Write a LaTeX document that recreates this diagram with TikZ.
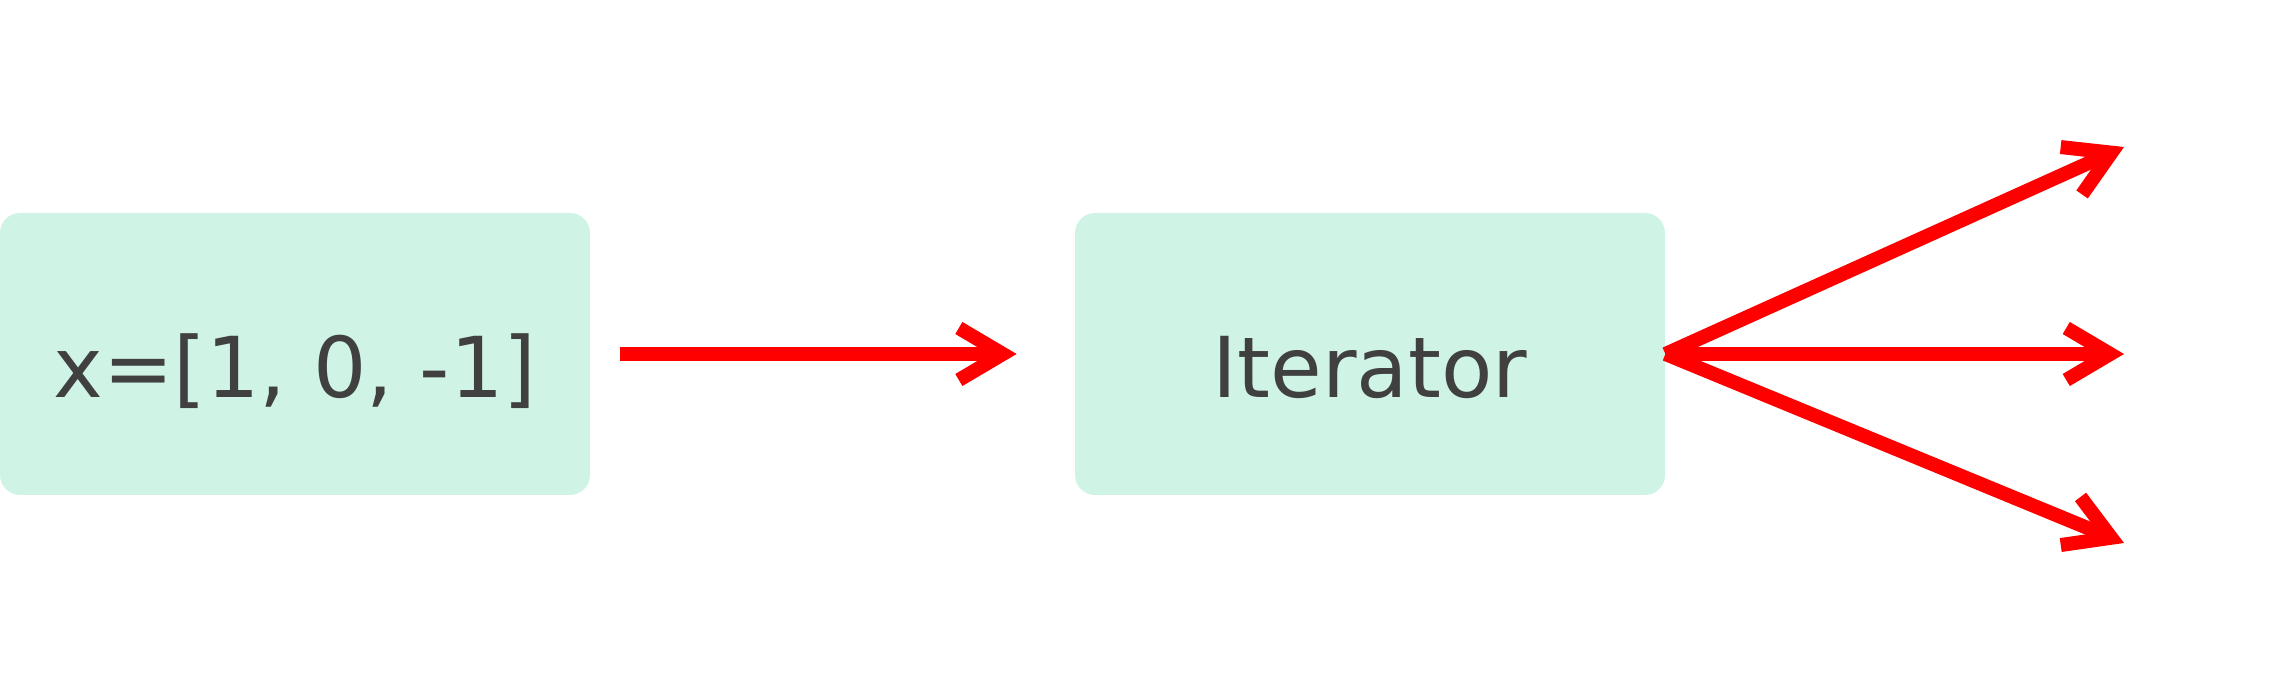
\documentclass[tikz,border=0pt]{standalone}
\usepackage{fontspec}
\setmainfont{DejaVu Sans}
\usetikzlibrary{arrows.meta}
\definecolor{boxfill}{RGB}{207,244,230}
\definecolor{labelgray}{RGB}{64,64,64}

\begin{document}
\begin{tikzpicture}[x=0.5pt, y=-0.5pt, >={Straight Barb[length=22pt,width=26pt]},
  block/.style={fill=boxfill, rounded corners=10pt, minimum width=295pt, minimum height=141pt,
    inner sep=0pt, text height=44pt, text depth=0pt,
    font=\fontsize{42}{50}\selectfont, text=labelgray},
  flow/.style={draw=red, line width=7pt, ->}]
  \useasboundingbox (0,0) rectangle (2275,694);
  % --- boxes ---
  \node[block] (list) at (295,354) {x=[1, 0, -1]};
  \node[block] (iter) at (1370,354) {Iterator};
  % --- arrow into the iterator ---
  \draw[flow, shorten <=15pt, shorten >=29pt] (list) -- (iter);
  % --- outputs of the iterator ---
  \coordinate (out1) at (2124,147);
  \coordinate (out2) at (2124,354);
  \coordinate (out3) at (2124,543);
  \draw[flow] (iter.east) -- (out1);
  \draw[flow] (iter.east) -- (out2);
  \draw[flow] (iter.east) -- (out3);
\end{tikzpicture}
\end{document}
